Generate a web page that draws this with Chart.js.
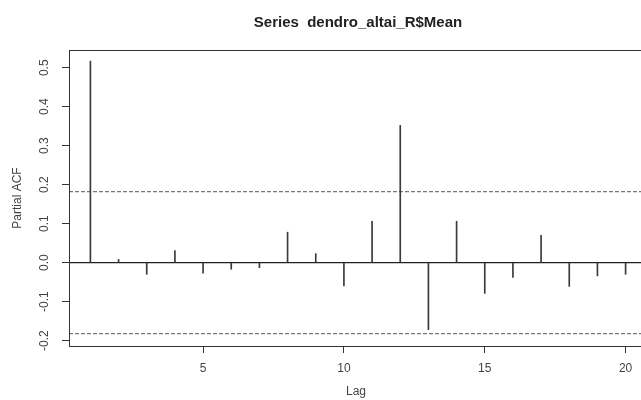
<!DOCTYPE html>
<html>
<head>
<meta charset="utf-8">
<script src="https://cdn.jsdelivr.net/npm/chart.js@4/dist/chart.umd.min.js"></script>
<style>
  html, body { margin: 0; padding: 0; background: #fff; overflow: hidden; width: 641px; height: 400px; }
  #wrap { width: 641px; height: 400px; overflow: hidden; }
</style>
</head>
<body>
<div id="wrap"><canvas id="grafico" width="660" height="400"></canvas></div>
<script>
// datos (PACF por lag)
const lags = [1, 2, 3, 4, 5, 6, 7, 8, 9, 10, 11, 12, 13, 14, 15, 16, 17, 18, 19, 20];
const pacf = [0.517, 0.008, -0.030, 0.031, -0.027, -0.017, -0.013, 0.078, 0.023, -0.060,
              0.106, 0.352, -0.172, 0.106, -0.079, -0.038, 0.070, -0.061, -0.034, -0.030];
const limiteConf = 0.182;
const xTicks = [5, 10, 15, 20];
const yTicks = [-0.2, -0.1, 0.0, 0.1, 0.2, 0.3, 0.4, 0.5];
const titulo = "Series  dendro_altai_R$Mean";

const xMin = 0.24, xMax = 20.76;
const fuente = "'Liberation Sans', Arial, sans-serif";

// titulo, caja y textos del eje y (rotados como en R)
const textosR = {
    id: 'textosR',
    afterDraw(chart) {
        const { ctx, chartArea, scales } = chart;
        ctx.save();
        ctx.strokeStyle = '#333';
        ctx.lineWidth = 1;
        ctx.strokeRect(chartArea.left + 0.5, chartArea.top + 0.5,
                       chartArea.right - chartArea.left, chartArea.bottom - chartArea.top);

        ctx.fillStyle = '#222';
        ctx.font = 'bold 15px ' + fuente;
        ctx.textAlign = 'center';
        ctx.textBaseline = 'middle';
        ctx.fillText(titulo, (chartArea.left + chartArea.right) / 2, 23);

        ctx.fillStyle = '#444';
        ctx.font = '12px ' + fuente;
        ctx.fillText('Lag', (chartArea.left + chartArea.right) / 2 - 2, 392);

        ctx.save();
        ctx.translate(18, (chartArea.top + chartArea.bottom) / 2);
        ctx.rotate(-Math.PI / 2);
        ctx.fillText('Partial ACF', 0, 0);
        ctx.restore();

        yTicks.forEach(v => {
            const y = scales.y.getPixelForValue(v);
            ctx.save();
            ctx.translate(45, y);
            ctx.rotate(-Math.PI / 2);
            ctx.fillText(v.toFixed(1), 0, 0);
            ctx.restore();
        });
        ctx.restore();
    }
};

new Chart(document.getElementById('grafico').getContext('2d'), {
    type: 'bar',
    data: {
        datasets: [
            {
                type: 'bar',
                data: lags.map((l, i) => ({ x: l, y: pacf[i] })),
                backgroundColor: '#3a3a3a',
                borderWidth: 0,
                barThickness: 1
            },
            {
                type: 'line',
                data: [{ x: xMin, y: 0 }, { x: xMax, y: 0 }],
                borderColor: '#222',
                borderWidth: 1.2,
                pointRadius: 0
            },
            {
                type: 'line',
                data: [{ x: xMin, y: limiteConf }, { x: xMax, y: limiteConf }],
                borderColor: '#777',
                borderWidth: 1.2,
                borderDash: [4, 2],
                pointRadius: 0
            },
            {
                type: 'line',
                data: [{ x: xMin, y: -limiteConf }, { x: xMax, y: -limiteConf }],
                borderColor: '#777',
                borderWidth: 1.2,
                borderDash: [4, 2],
                pointRadius: 0
            }
        ]
    },
    options: {
        responsive: false,
        animation: false,
        layout: { padding: { top: 50, left: 0, right: 13, bottom: 0 } },
        plugins: {
            legend: { display: false },
            tooltip: { enabled: false }
        },
        scales: {
            x: {
                type: 'linear',
                min: xMin,
                max: xMax,
                offset: false,
                afterBuildTicks: s => { s.ticks = xTicks.map(v => ({ value: v })); },
                afterFit: s => { s.height = 54; },
                grid: { display: true, offset: false, drawOnChartArea: false, drawTicks: true, tickLength: 7, color: '#333' },
                border: { display: false },
                ticks: {
                    color: '#444',
                    font: { family: fuente, size: 12 },
                    padding: 8,
                    maxRotation: 0
                }
            },
            y: {
                type: 'linear',
                min: -0.214,
                max: 0.5455,
                afterBuildTicks: s => { s.ticks = yTicks.map(v => ({ value: v })); },
                afterFit: s => { s.width = 69; },
                grid: { display: true, drawOnChartArea: false, drawTicks: true, tickLength: 7, color: '#333' },
                border: { display: false },
                ticks: { display: false }
            }
        }
    },
    plugins: [textosR]
});
</script>
</body>
</html>
